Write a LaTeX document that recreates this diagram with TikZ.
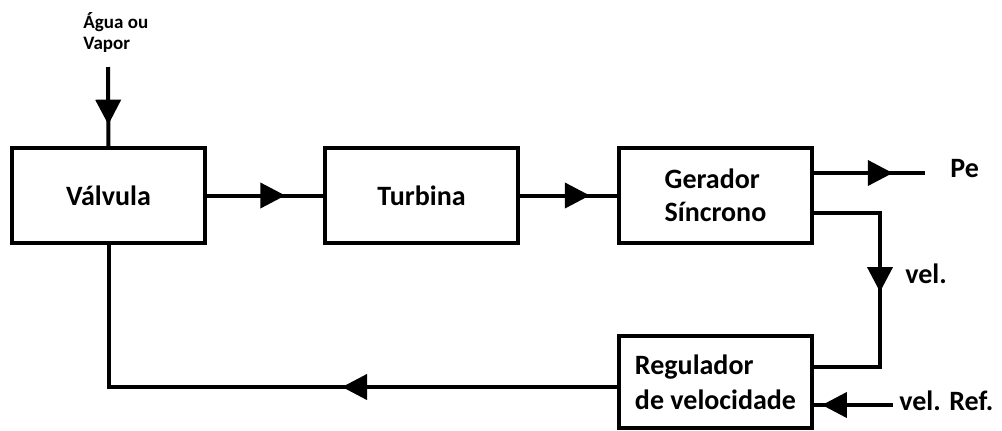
\documentclass[tikz,border=0pt]{standalone}
\usepackage{fontspec}
\setmainfont{Carlito}
\usetikzlibrary{arrows.meta,decorations.markings,calc}

\begin{document}
\begin{tikzpicture}[x=0.5pt,y=-0.5pt,
		bloco/.style={draw,line width=2pt,minimum width=96.5pt,minimum height=47.5pt,inner sep=0pt,align=left,font=\fontsize{14}{16.5}\selectfont\bfseries},
		rotulo/.style={anchor=base west,inner sep=0pt,font=\fontsize{14}{16.5}\selectfont\bfseries},
		fluxo/.style={line width=2pt},
		flecha/.style={fluxo,postaction={decorate},decoration={markings,mark=at position #1 with {\arrow{Triangle[length=12.5pt,width=12.5pt]}}}}]
			\useasboundingbox (0,0) rectangle (1002,430);
			% blocos
			\node[bloco] (valvula) at (108.5,195.5) {Válvula};
			\node[bloco] (turbina) at (421.5,195.5) {Turbina};
			\node[bloco] (gerador) at (715.5,195.5) {Gerador\\Síncrono};
			\node[bloco,minimum height=46pt,font=\fontsize{14}{17.5}\selectfont\bfseries] (regulador) at (715.5,382) {Regulador\\de velocidade};
			% entrada
			\node[anchor=west,inner sep=0pt,align=left,font=\fontsize{9.5}{10.5}\selectfont\bfseries] (entrada) at (83,33) {Água ou\\Vapor};
			\coordinate (agua) at (108,67);
			\draw[flecha=0.73] (agua) -- (valvula.north);
			\draw[flecha=0.675] (valvula.east) -- (turbina.west);
			\draw[flecha=0.72] (turbina.east) -- (gerador.west);
			% saidas
			\coordinate (pe) at (925,173);
			\draw[flecha=0.71] ($(gerador.east)+(0,-22.5)$) -- (pe);
			\node[rotulo] (petxt) at (950,177) {Pe};
			\coordinate (dobra1) at (880,213);
			\coordinate (dobra2) at (880,367);
			\draw[flecha=72.5pt] ($(gerador.east)+(0,17.5)$) -- (dobra1) -- (dobra2) -- ($(regulador.east)+(0,-15)$);
			\node[rotulo] (veltxt) at (905,283) {vel.};
			\coordinate (ref) at (893,405);
			\draw[flecha=0.9] (ref) -- ($(regulador.east)+(0,23)$);
			\node[rotulo] (reftxt) at (899,410) {vel. Ref.};
			% realimentacao
			\draw[flecha=137.5pt] ($(regulador.west)+(0,5)$) -| (valvula.south);
		\end{tikzpicture}
\end{document}
